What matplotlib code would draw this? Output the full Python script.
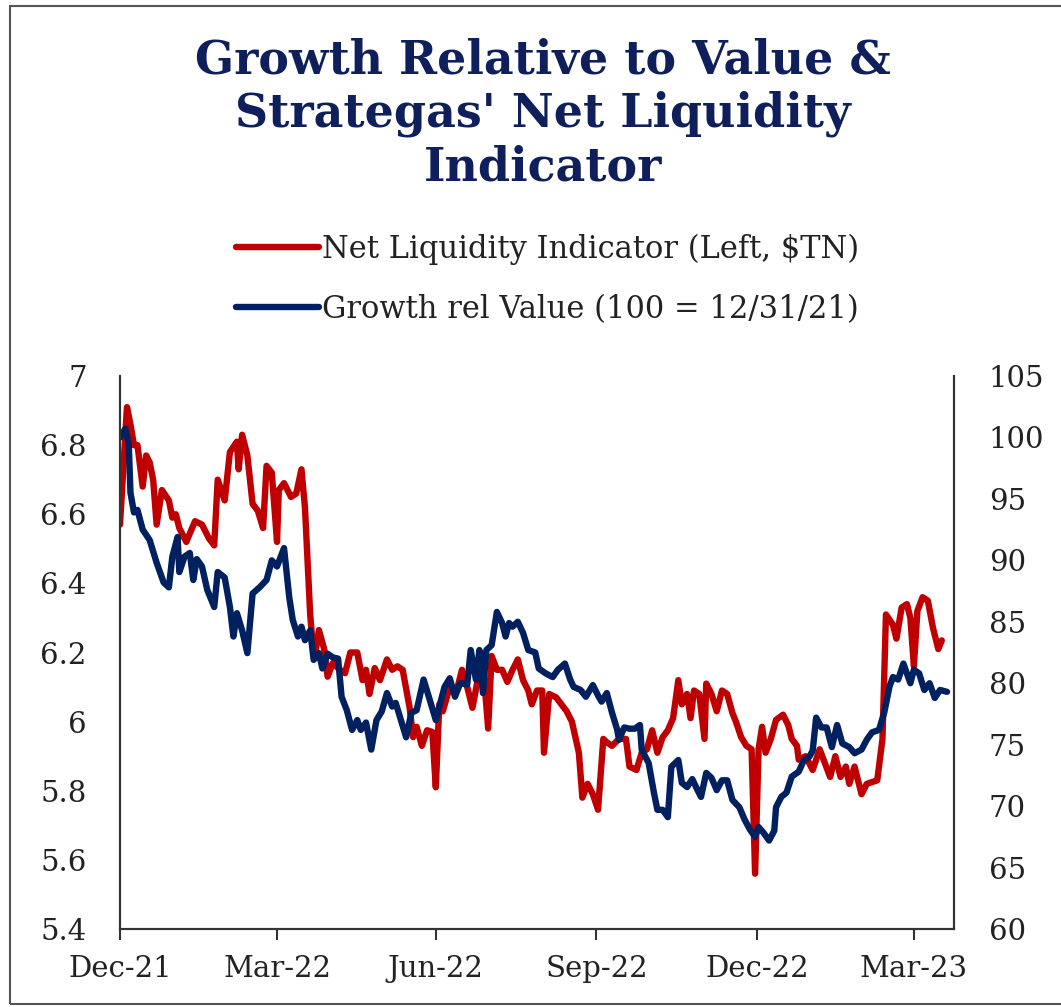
import matplotlib
matplotlib.use("Agg")
import matplotlib.pyplot as plt
import pandas as pd
from matplotlib.patches import Rectangle

title = "Growth Relative to Value &\nStrategas' Net Liquidity\nIndicator"
label_liq = "Net Liquidity Indicator (Left, $TN)"
label_gv = "Growth rel Value (100 = 12/31/21)"

liq_dates = [
    "2021-12-31", "2022-01-04", "2022-01-06", "2022-01-08", "2022-01-10", "2022-01-13", "2022-01-15",
    "2022-01-17", "2022-01-19", "2022-01-21", "2022-01-24", "2022-01-28", "2022-01-30", "2022-02-01",
    "2022-02-03", "2022-02-07", "2022-02-12", "2022-02-16", "2022-02-20", "2022-02-23", "2022-02-25",
    "2022-03-01", "2022-03-04", "2022-03-08", "2022-03-09", "2022-03-11", "2022-03-14", "2022-03-17",
    "2022-03-20", "2022-03-23", "2022-03-25", "2022-03-28", "2022-03-31", "2022-04-01", "2022-04-04",
    "2022-04-08", "2022-04-11", "2022-04-14", "2022-04-16", "2022-04-19", "2022-04-20", "2022-04-22",
    "2022-04-24", "2022-04-27", "2022-04-29", "2022-05-02", "2022-05-06", "2022-05-09", "2022-05-12",
    "2022-05-16", "2022-05-19", "2022-05-21", "2022-05-23", "2022-05-26", "2022-05-29", "2022-06-02",
    "2022-06-05", "2022-06-08", "2022-06-11", "2022-06-15", "2022-06-17", "2022-06-19", "2022-06-22",
    "2022-06-25", "2022-06-28", "2022-06-30", "2022-07-02", "2022-07-04", "2022-07-08", "2022-07-12",
    "2022-07-15", "2022-07-18", "2022-07-21", "2022-07-24", "2022-07-27", "2022-07-30", "2022-08-01",
    "2022-08-04", "2022-08-07", "2022-08-10", "2022-08-13", "2022-08-16", "2022-08-19", "2022-08-22",
    "2022-08-24", "2022-08-27", "2022-08-30", "2022-08-31", "2022-09-03", "2022-09-07", "2022-09-13",
    "2022-09-16", "2022-09-20", "2022-09-22", "2022-09-25", "2022-09-28", "2022-10-01", "2022-10-04",
    "2022-10-06", "2022-10-09", "2022-10-13", "2022-10-17", "2022-10-19", "2022-10-23", "2022-10-26",
    "2022-10-29", "2022-11-01", "2022-11-04", "2022-11-07", "2022-11-10", "2022-11-13", "2022-11-16",
    "2022-11-18", "2022-11-21", "2022-11-23", "2022-11-25", "2022-11-28", "2022-12-01", "2022-12-02",
    "2022-12-05", "2022-12-08", "2022-12-11", "2022-12-14", "2022-12-17", "2022-12-19", "2022-12-22",
    "2022-12-25", "2022-12-28", "2022-12-30", "2023-01-01", "2023-01-03", "2023-01-05", "2023-01-08",
    "2023-01-11", "2023-01-15", "2023-01-18", "2023-01-20", "2023-01-23", "2023-01-24", "2023-01-28",
    "2023-02-01", "2023-02-05", "2023-02-08", "2023-02-11", "2023-02-14", "2023-02-17", "2023-02-20",
    "2023-02-22", "2023-02-25", "2023-03-01", "2023-03-04", "2023-03-10", "2023-03-13", "2023-03-15",
    "2023-03-19", "2023-03-21", "2023-03-24", "2023-03-27", "2023-03-29", "2023-03-31", "2023-04-02",
    "2023-04-05", "2023-04-08", "2023-04-11", "2023-04-14", "2023-04-16",
]
liq_values = [
    6.57, 6.91, 6.86, 6.80, 6.80, 6.68, 6.77,
    6.75, 6.70, 6.57, 6.67, 6.64, 6.59, 6.60,
    6.56, 6.52, 6.58, 6.57, 6.53, 6.51, 6.70,
    6.64, 6.78, 6.81, 6.73, 6.83, 6.77, 6.63,
    6.61, 6.56, 6.74, 6.72, 6.52, 6.67, 6.69,
    6.65, 6.66, 6.73, 6.62, 6.31, 6.25, 6.20,
    6.265, 6.21, 6.13, 6.17, 6.15, 6.14, 6.20,
    6.20, 6.12, 6.15, 6.08, 6.155, 6.12, 6.18,
    6.15, 6.16, 6.15, 6.04, 5.955, 5.985, 5.93,
    5.975, 5.97, 5.81, 6.05, 6.03, 6.10, 6.09,
    6.15, 6.10, 6.04, 6.12, 6.17, 5.98, 6.19,
    6.15, 6.15, 6.115, 6.15, 6.18, 6.12, 6.09,
    6.05, 6.09, 6.09, 5.91, 6.08, 6.07, 6.03,
    6.00, 5.91, 5.78, 5.82, 5.79, 5.745, 5.95,
    5.94, 5.93, 5.95, 5.95, 5.87, 5.86, 5.91,
    5.92, 5.975, 5.91, 5.955, 5.975, 6.01, 6.12,
    6.05, 6.08, 6.01, 6.09, 6.08, 5.95, 6.11,
    6.08, 6.03, 6.09, 6.08, 6.025, 6.00, 5.955,
    5.93, 5.92, 5.56, 5.92, 5.985, 5.91, 5.95,
    6.005, 6.02, 5.99, 5.95, 5.93, 5.89, 5.90,
    5.86, 5.92, 5.88, 5.84, 5.90, 5.84, 5.87,
    5.82, 5.87, 5.79, 5.82, 5.83, 5.95, 6.31,
    6.28, 6.24, 6.33, 6.34, 6.30, 6.16, 6.32,
    6.36, 6.35, 6.27, 6.21, 6.235,
]

gv_dates = [
    "2021-12-31", "2022-01-03", "2022-01-05", "2022-01-06", "2022-01-08", "2022-01-10", "2022-01-13",
    "2022-01-17", "2022-01-21", "2022-01-25", "2022-01-28", "2022-01-30", "2022-02-02", "2022-02-03",
    "2022-02-06", "2022-02-09", "2022-02-11", "2022-02-13", "2022-02-16", "2022-02-19", "2022-02-23",
    "2022-02-25", "2022-03-01", "2022-03-04", "2022-03-06", "2022-03-08", "2022-03-11", "2022-03-14",
    "2022-03-17", "2022-03-21", "2022-03-25", "2022-03-28", "2022-03-31", "2022-04-04", "2022-04-07",
    "2022-04-09", "2022-04-12", "2022-04-14", "2022-04-16", "2022-04-19", "2022-04-21", "2022-04-24",
    "2022-04-26", "2022-04-29", "2022-05-02", "2022-05-05", "2022-05-07", "2022-05-10", "2022-05-13",
    "2022-05-16", "2022-05-18", "2022-05-21", "2022-05-24", "2022-05-27", "2022-05-30", "2022-06-02",
    "2022-06-05", "2022-06-07", "2022-06-10", "2022-06-13", "2022-06-16", "2022-06-19", "2022-06-23",
    "2022-06-26", "2022-06-30", "2022-07-03", "2022-07-05", "2022-07-08", "2022-07-11", "2022-07-14",
    "2022-07-18", "2022-07-20", "2022-07-23", "2022-07-25", "2022-07-27", "2022-07-29", "2022-08-01",
    "2022-08-04", "2022-08-07", "2022-08-09", "2022-08-11", "2022-08-13", "2022-08-16", "2022-08-19",
    "2022-08-22", "2022-08-26", "2022-08-28", "2022-09-01", "2022-09-05", "2022-09-08", "2022-09-12",
    "2022-09-15", "2022-09-17", "2022-09-21", "2022-09-24", "2022-09-28", "2022-10-01", "2022-10-03",
    "2022-10-06", "2022-10-09", "2022-10-12", "2022-10-13", "2022-10-16", "2022-10-19", "2022-10-22",
    "2022-10-25", "2022-10-26", "2022-10-30", "2022-11-02", "2022-11-04", "2022-11-07", "2022-11-10",
    "2022-11-12", "2022-11-16", "2022-11-18", "2022-11-21", "2022-11-24", "2022-11-27", "2022-11-29",
    "2022-12-02", "2022-12-05", "2022-12-08", "2022-12-11", "2022-12-14", "2022-12-17", "2022-12-21",
    "2022-12-24", "2022-12-27", "2022-12-30", "2023-01-01", "2023-01-04", "2023-01-07", "2023-01-10",
    "2023-01-11", "2023-01-14", "2023-01-17", "2023-01-20", "2023-01-24", "2023-01-27", "2023-01-30",
    "2023-02-01", "2023-02-03", "2023-02-06", "2023-02-09", "2023-02-12", "2023-02-15", "2023-02-18",
    "2023-02-22", "2023-02-25", "2023-03-01", "2023-03-04", "2023-03-07", "2023-03-11", "2023-03-14",
    "2023-03-17", "2023-03-19", "2023-03-22", "2023-03-25", "2023-03-27", "2023-03-29", "2023-03-31",
    "2023-04-03", "2023-04-06", "2023-04-09", "2023-04-12", "2023-04-15", "2023-04-19",
]
gv_values = [
    100.0, 100.7, 99.5, 95.5, 93.9, 94.1, 92.5,
    91.65, 89.8, 88.2, 87.8, 90.3, 91.9, 89.05,
    90.3, 90.6, 88.4, 90.1, 89.5, 87.6, 86.2,
    89.05, 88.6, 86.2, 83.8, 85.7, 84.3, 82.45,
    87.3, 87.8, 88.4, 90.0, 89.5, 91.0, 87.0,
    85.15, 83.8, 84.6, 83.5, 84.3, 81.9, 82.45,
    81.2, 82.4, 82.1, 82.0, 78.9, 77.8, 76.2,
    77.0, 76.2, 76.8, 74.6, 77.0, 77.7, 79.2,
    78.1, 78.4, 77.0, 75.6, 77.6, 77.8, 80.3,
    78.9, 77.0, 78.6, 79.7, 80.4, 78.9, 80.0,
    79.9, 82.7, 80.3, 82.7, 79.2, 82.7, 83.1,
    85.8, 84.9, 83.8, 84.9, 84.6, 85.0, 84.1,
    82.7, 82.5, 81.2, 80.8, 80.5, 81.1, 81.6,
    80.3, 79.7, 79.45, 78.9, 79.85, 79.0, 78.5,
    79.2, 77.6, 76.2, 75.4, 76.4, 76.3, 76.3,
    76.6, 74.6, 73.5, 71.1, 69.7, 69.7, 69.1,
    73.2, 73.75, 71.9, 71.55, 72.2, 71.3, 70.75,
    72.7, 72.3, 71.3, 72.1, 72.1, 70.5, 69.9,
    68.9, 68.1, 67.5, 68.3, 67.8, 67.2, 68.0,
    69.9, 70.75, 71.1, 72.4, 72.8, 73.75, 74.0,
    74.5, 77.2, 76.4, 76.4, 74.8, 76.6, 75.1,
    74.8, 74.3, 74.6, 75.4, 76.0, 76.2, 77.6,
    79.7, 80.5, 80.3, 81.6, 80.8, 80.0, 81.1,
    80.8, 79.45, 80.0, 78.8, 79.45, 79.3,
]

x_ticks = ["2021-12-31", "2022-03-31", "2022-06-30", "2022-09-30", "2022-12-31", "2023-03-31"]
x_tick_labels = ["Dec-21", "Mar-22", "Jun-22", "Sep-22", "Dec-22", "Mar-23"]
left_ticks = [5.4, 5.6, 5.8, 6.0, 6.2, 6.4, 6.6, 6.8, 7.0]
left_tick_labels = ["5.4", "5.6", "5.8", "6", "6.2", "6.4", "6.6", "6.8", "7"]
right_ticks = [60, 65, 70, 75, 80, 85, 90, 95, 100, 105]

RED = "#C00000"
NAVY = "#002060"
TXT = "#222222"
SERIF = "DejaVu Serif"

fig = plt.figure(figsize=(10.61, 10.07), dpi=100)
fig.patch.set_facecolor("white")

# outer frame
fig.patches.append(Rectangle((10 / 1061, 3 / 1007), 1.2, 1 - 9 / 1007,
                             transform=fig.transFigure, fill=False,
                             edgecolor="#555555", linewidth=1.5))

ax = fig.add_axes([120 / 1061, 1 - 929 / 1007, (954 - 120) / 1061, (929 - 376) / 1007])
ax2 = ax.twinx()

l1, = ax.plot(pd.to_datetime(liq_dates), liq_values, color=RED, linewidth=4.6,
              solid_joinstyle="round", solid_capstyle="round", label=label_liq)
l2, = ax2.plot(pd.to_datetime(gv_dates), gv_values, color=NAVY, linewidth=4.6,
               solid_joinstyle="round", solid_capstyle="round", label=label_gv)

ax.set_xlim(pd.Timestamp("2021-12-31"), pd.Timestamp("2023-04-23"))
ax.set_ylim(5.4, 7.0)
ax2.set_ylim(60, 105)

ax.set_xticks(pd.to_datetime(x_ticks))
ax.set_xticklabels(x_tick_labels, fontfamily=SERIF, fontsize=21, color=TXT)
ax.set_yticks(left_ticks)
ax.set_yticklabels(left_tick_labels, fontfamily=SERIF, fontsize=21, color=TXT)
ax2.set_yticks(right_ticks)
ax2.set_yticklabels([str(t) for t in right_ticks], fontfamily=SERIF, fontsize=21, color=TXT)

ax.tick_params(axis="x", direction="out", length=8, width=1.5, color="#333333", pad=11)
ax.tick_params(axis="y", length=0, pad=24)
ax2.tick_params(axis="y", length=0, pad=25)

for a in (ax, ax2):
    a.spines["top"].set_visible(False)
    for s in ("left", "right", "bottom"):
        a.spines[s].set_color("#333333")
        a.spines[s].set_linewidth(1.5)

fig.text(0.512, 1 - 114 / 1007, title, ha="center", va="center", fontfamily=SERIF,
         fontweight="bold", fontsize=33, color="#0E1F5B", linespacing=1.2)

leg = fig.legend(handles=[l1, l2], loc="center", bbox_to_anchor=(0.516, 1 - 279 / 1007),
                 frameon=False, handlelength=2.7, handletextpad=0.1, labelspacing=0.95,
                 prop={"family": SERIF, "size": 22})
for t in leg.get_texts():
    t.set_color(TXT)

fig.savefig("out.png", dpi=100, facecolor="white")
